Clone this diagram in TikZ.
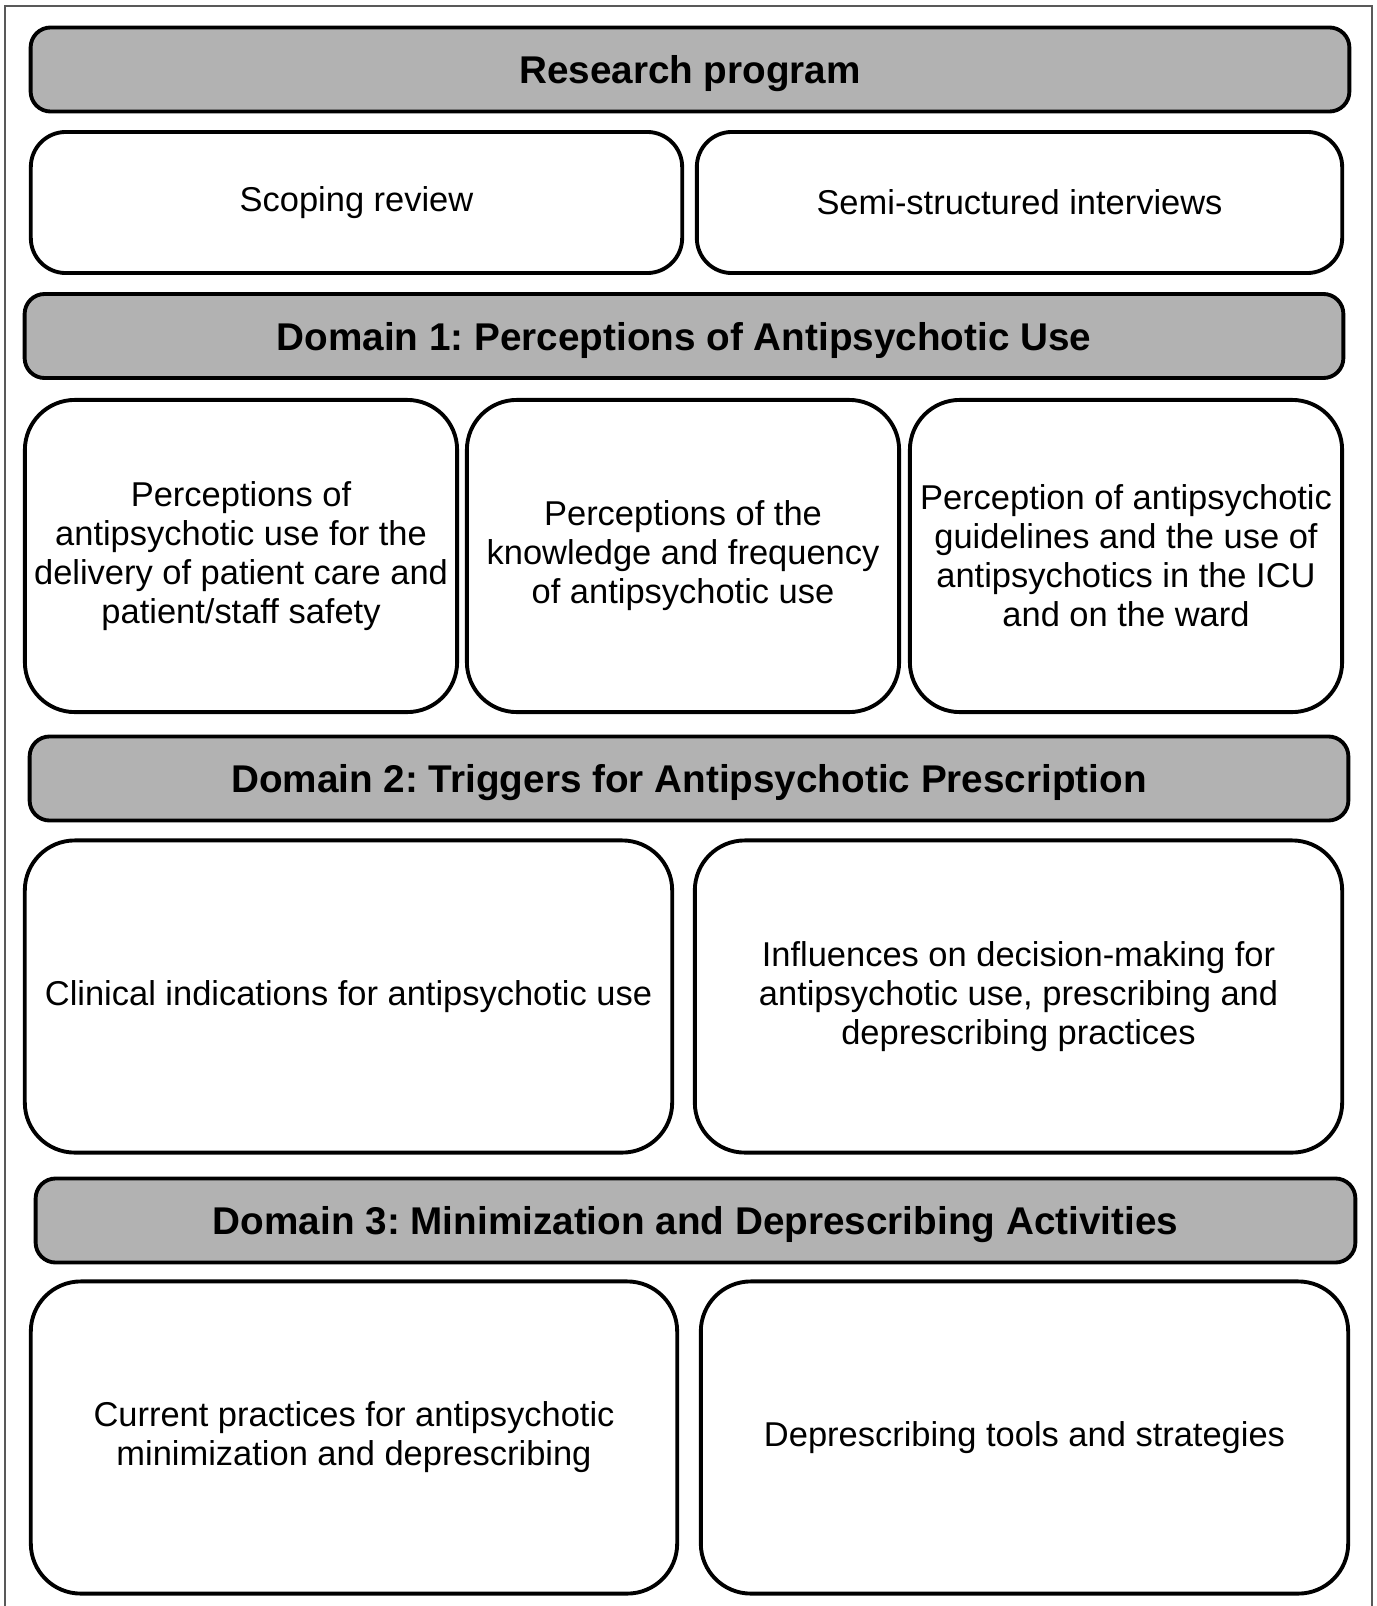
\documentclass[tikz,border=0pt]{standalone}
\usepackage{fontspec}
\setmainfont{Liberation Sans}
\frenchspacing
\colorlet{bar fill}{black!30}
\colorlet{frame edge}{black!65}
\tikzset{
  bar/.style={rounded corners=0.2cm, fill=bar fill, draw=black, line width=1.1pt,
    minimum height=0.84cm, text depth=0pt, font=\fontsize{11}{13}\selectfont\bfseries},
  box/.style={rounded corners=0.5cm, fill=white, draw=black, line width=1.1pt,
    minimum height=3.12cm, align=center, inner sep=1pt,
    font=\fontsize{9.8}{11.1}\selectfont}
  }
\tikzstyle{method} = [box, rounded corners=0.35cm, minimum height=1.41cm]

\begin{document}
\begin{tikzpicture}[x=0.01cm, y=-0.01cm]

  \useasboundingbox (0,0) rectangle (1377,1606);
  \draw[frame edge, line width=0.8pt] (5,1606) -- (5,6) -- (1372,6) -- (1372,1606);

  % headers
  \foreach \pos/\boxw/\name/\txt in {
      {(690,69.5)/13.18cm/research/Research program},
      {(684,336)/13.18cm/dom1/Domain 1: Perceptions of Antipsychotic Use},
      {(689,778.5)/13.18cm/dom2/Domain 2: Triggers for Antipsychotic Prescription},
      {(695.5,1220.5)/13.19cm/dom3/Domain 3: Minimization and Deprescribing Activities}} {
    \node[bar, minimum width=\boxw] (\name) at \pos {\txt};
  }

  % methods
  \node[method, minimum width=6.51cm] (scoping) at (356.5,202.5) {Scoping review};
  \node[method, minimum width=6.45cm] (semi) at (1019.5,202.5) {Semi-structured interviews};

  % domain items
  \foreach \pos/\boxw/\name/\txt in {
      {(241,556)/4.32cm/perc1/{Perceptions of\\antipsychotic use for the\\delivery of patient care and\\patient/staff safety}},
      {(683,556)/4.32cm/perc2/{Perceptions of the\\knowledge and frequency\\of antipsychotic use}},
      {(1126,556)/4.32cm/perc3/{Perception of antipsychotic\\guidelines and the use of\\antipsychotics in the ICU\\and on the ward}},
      {(348.5,996.5)/6.47cm/trig1/{Clinical indications for antipsychotic use}},
      {(1018.5,996.5)/6.47cm/trig2/{Influences on decision-making for\\antipsychotic use, prescribing and\\deprescribing practices}},
      {(354,1437.5)/6.46cm/mini1/{Current practices for antipsychotic\\minimization and deprescribing}},
      {(1024.5,1437.5)/6.47cm/mini2/{Deprescribing tools and strategies}}} {
    \node[box, minimum width=\boxw] (\name) at \pos {\txt};
  }

\end{tikzpicture}
\end{document}
